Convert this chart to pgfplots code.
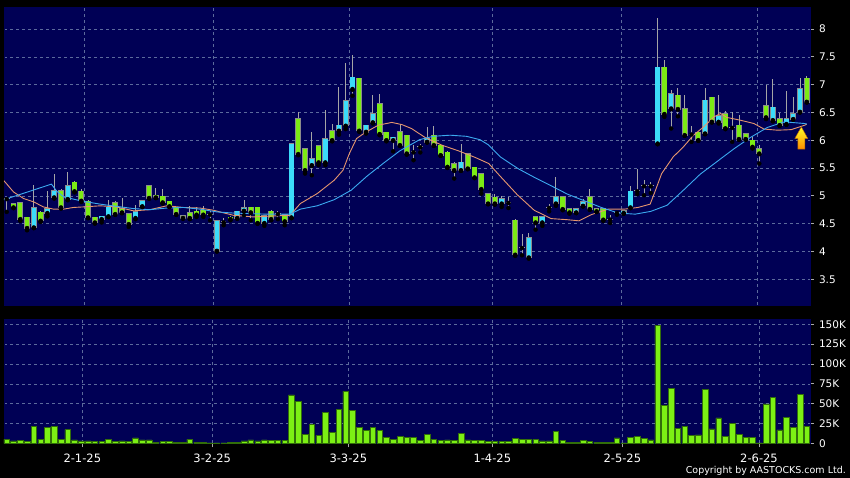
\documentclass[border=0pt]{standalone}
\usepackage{pgfplots}
\pgfplotsset{compat=1.18}
\usepackage{pgfplotstable}
\usepackage{fontspec}
\setmainfont{DejaVu Sans}
\definecolor{navybg}{RGB}{0,0,85}
\definecolor{gridcol}{RGB}{92,106,156}
\definecolor{upcol}{RGB}{60,220,250}
\definecolor{dncol}{RGB}{124,235,20}
\definecolor{wickcol}{RGB}{165,165,165}
\definecolor{bordcol}{RGB}{140,140,140}
\definecolor{volcol}{RGB}{124,240,20}
\definecolor{voledge}{RGB}{50,110,10}
\definecolor{maorange}{RGB}{230,150,110}
\definecolor{mablue}{RGB}{60,170,240}
\definecolor{tickgray}{RGB}{170,170,170}
\newcommand{\tickfont}{\fontsize{10.5}{12}\selectfont}
\newcommand{\datefont}{\fontsize{11.5}{13}\selectfont}

% columns: i low bodybottom bodytop high
\pgfplotstableread{
i lo bb bt hi
1 4.78 4.79 4.85 4.86
2 4.55 4.58 4.87 4.88
3 4.38 4.42 4.61 4.62
5 4.53 4.55 4.70 4.72
8 4.77 4.79 5.09 5.12
10 5.06 5.08 5.24 5.26
11 4.89 4.91 5.08 5.13
12 4.60 4.61 4.90 4.92
13 4.50 4.52 4.61 4.62
16 4.66 4.67 4.87 4.90
17 4.69 4.70 4.76 4.96
18 4.44 4.49 4.67 4.68
21 4.95 4.96 5.18 5.19
22 4.96 4.97 5.01 5.14
23 4.86 4.88 4.99 5.12
24 4.80 4.81 4.90 4.91
25 4.66 4.67 4.79 4.80
26 4.59 4.60 4.64 4.65
27 4.58 4.60 4.69 4.81
28 4.62 4.66 4.72 4.80
29 4.62 4.66 4.74 4.82
33 4.56 4.58 4.61 4.63
36 4.56 4.70 4.79 4.80
37 4.50 4.51 4.79 4.80
39 4.56 4.58 4.72 4.75
41 4.47 4.54 4.66 4.67
43 5.73 5.75 6.39 6.50
44 5.40 5.46 5.84 5.86
46 5.55 5.60 5.90 5.92
48 5.98 6.00 6.17 6.30
52 6.15 6.17 7.11 7.12
55 6.09 6.11 6.65 6.83
56 5.98 6.00 6.14 6.15
58 5.90 5.91 6.15 6.30
59 5.74 5.76 6.09 6.10
63 5.90 5.91 6.09 6.25
64 5.72 5.73 5.91 5.92
65 5.50 5.52 5.78 5.80
66 5.31 5.46 5.58 5.60
68 5.48 5.49 5.75 5.76
69 5.32 5.33 5.51 5.52
70 5.04 5.12 5.40 5.41
71 4.85 4.86 5.03 5.04
72 4.84 4.86 4.97 5.03
75 3.92 3.94 4.56 4.59
78 4.39 4.52 4.62 4.63
82 4.74 4.76 4.98 4.99
83 4.68 4.70 4.76 4.77
86 4.75 4.76 4.98 5.13
87 4.71 4.72 4.77 4.78
88 4.55 4.57 4.76 4.77
97 6.42 6.47 7.31 7.44
99 6.43 6.56 6.81 6.94
100 6.08 6.09 6.56 6.81
102 5.99 6.00 6.14 6.15
104 6.32 6.33 6.77 6.78
106 6.21 6.21 6.47 6.52
108 6.01 6.02 6.27 6.45
109 6.01 6.02 6.11 6.12
110 5.85 5.88 6.00 6.06
111 5.58 5.76 5.85 5.91
112 6.38 6.41 6.62 6.99
114 6.26 6.27 6.39 6.49
118 6.68 6.69 7.11 7.15
}\dntab

\pgfplotstableread{
i lo bb bt hi
4 4.42 4.43 4.78 5.20
6 4.63 4.69 4.76 5.09
7 4.95 4.97 5.09 5.40
9 4.92 4.94 5.18 5.43
14 4.52 4.58 4.63 4.64
15 4.62 4.63 4.79 4.93
19 4.58 4.60 4.71 4.84
20 4.80 4.81 4.91 4.92
31 4.00 4.01 4.55 4.56
34 4.59 4.60 4.72 4.73
35 4.65 4.73 4.78 4.92
38 4.46 4.51 4.64 4.65
42 4.60 4.61 5.94 5.95
45 5.37 5.55 5.67 6.15
47 5.55 5.60 6.02 6.54
49 6.10 6.17 6.27 6.96
50 6.20 6.26 6.71 7.38
51 6.80 6.92 7.13 7.53
53 6.12 6.15 6.27 6.28
54 6.30 6.32 6.48 6.81
57 5.80 6.00 6.05 6.06
62 5.96 5.97 6.03 6.24
67 5.45 5.46 5.60 5.94
73 4.80 4.86 4.95 4.99
77 3.87 3.89 4.25 4.33
79 4.46 4.52 4.62 4.63
81 4.82 4.86 4.98 5.34
84 4.69 4.70 4.77 4.78
85 4.81 4.82 4.89 4.95
91 4.68 4.69 4.73 4.74
92 4.78 4.79 5.08 5.17
96 5.93 5.94 7.31 8.19
98 6.21 6.57 6.83 6.90
103 6.11 6.12 6.72 6.93
105 6.30 6.33 6.44 6.81
113 6.34 6.36 6.59 7.10
115 6.28 6.29 6.38 6.89
116 6.37 6.38 6.47 6.77
117 6.50 6.51 6.92 7.11
}\uptab

\pgfplotstableread{
i lo b hi
0 4.71 4.95 4.98
30 4.56 4.67 4.72
32 4.47 4.53 4.60
40 4.58 4.68 4.72
60 5.64 5.79 5.91
61 5.78 5.88 5.94
74 4.78 4.88 4.97
76 3.93 4.07 4.32
80 4.72 4.79 4.86
89 4.51 4.58 4.65
90 4.66 4.70 4.73
93 5.03 5.09 5.48
94 5.01 5.18 5.28
95 5.05 5.18 5.25
101 5.97 6.11 6.25
107 5.97 6.23 6.51
}\dojitab

% volume in thousands
\pgfplotstableread{
i v
0 5.0
1 2.9
2 3.3
3 2.1
4 21.0
5 5.0
6 20.1
7 21.8
8 5.0
9 17.2
10 4.2
11 2.9
12 2.9
13 2.1
14 2.1
15 5.0
16 2.1
17 2.9
18 2.1
19 6.7
20 4.2
21 4.2
22 1.6
23 2.1
24 2.1
25 1.6
26 0.8
27 5.0
28 1.6
29 1.6
30 0.4
31 0.4
32 0.4
33 1.2
34 1.6
35 2.9
36 4.2
37 2.9
38 4.2
39 3.3
40 3.3
41 3.3
42 60.9
43 52.5
44 11.7
45 24.3
46 9.6
47 39.0
48 13.4
49 42.8
50 65.5
51 41.1
52 20.1
53 15.9
54 20.1
55 15.9
56 7.1
57 5.4
58 9.2
59 7.1
60 7.1
61 3.5
62 11.7
63 5.0
64 3.3
65 4.2
66 3.3
67 12.6
68 4.2
69 3.8
70 3.8
71 2.5
72 2.5
73 2.5
74 2.5
75 6.3
76 4.6
77 5.0
78 5.0
79 2.9
80 2.9
81 15.1
82 3.8
83 1.2
84 1.2
85 3.3
86 2.1
87 1.6
88 1.2
89 0.8
90 6.7
91 0.4
92 7.9
93 9.2
94 5.9
95 4.2
96 149.0
97 47.5
98 68.9
99 18.5
100 21.8
101 9.6
102 10.5
103 68.1
104 18.1
105 31.9
106 8.4
107 25.2
108 11.3
109 7.6
110 7.6
111 0.5
112 49.6
113 57.5
114 16.8
115 32.4
116 20.2
117 61.7
118 21.8
}\voltab

\begin{document}
\begin{tikzpicture}
\fill[black] (0pt,0pt) rectangle (850pt,478pt);
\useasboundingbox (0pt,0pt) rectangle (850pt,478pt);

% ---------- price panel ----------
\begin{axis}[
  at={(4pt,173pt)}, anchor=south west,
  width=806pt, height=298pt, scale only axis,
  xmin=-0.4, xmax=118.48, ymin=3.036, ymax=8.396,
  axis background/.style={fill=navybg},
  axis line style={draw=navybg},
  xtick={11.4,30.4,50.5,71.6,90.7,110.7}, xticklabels={},
  xtick style={draw=none},
  ytick={3.5,4,4.5,5,5.5,6,6.5,7,7.5,8},
  yticklabels={3.5,4,4.5,5,5.5,6,6.5,7,7.5,8},
  ytick pos=right, yticklabel pos=right,
  tick align=outside, major tick length=4pt,
  ytick style={draw=tickgray, line width=0.8pt},
  xmajorgrids, ymajorgrids,
  major grid style={draw=gridcol, dash pattern=on 3pt off 3pt, line width=0.6pt},
  yticklabel style={font=\tickfont, text=white, xshift=1.5pt},
]
% wicks
\addplot[only marks, mark=none, error bars/.cd, y dir=plus, y explicit, error mark=none,
  error bar style={draw=wickcol, line width=0.9pt}]
  table[x=i, y=lo, y error expr=\thisrow{hi}-\thisrow{lo}] {\dntab};
\addplot[only marks, mark=none, error bars/.cd, y dir=plus, y explicit, error mark=none,
  error bar style={draw=wickcol, line width=0.9pt}]
  table[x=i, y=lo, y error expr=\thisrow{hi}-\thisrow{lo}] {\uptab};
\addplot[only marks, mark=none, error bars/.cd, y dir=plus, y explicit, error mark=none,
  error bar style={draw=wickcol, line width=0.9pt}]
  table[x=i, y=lo, y error expr=\thisrow{hi}-\thisrow{lo}] {\dojitab};
% body borders
\addplot[only marks, mark=none, error bars/.cd, y dir=plus, y explicit, error mark=none,
  error bar style={draw=bordcol, line width=5.8pt}]
  table[x=i, y expr=\thisrow{bb}-0.012, y error expr=\thisrow{bt}-\thisrow{bb}+0.024] {\dntab};
\addplot[only marks, mark=none, error bars/.cd, y dir=plus, y explicit, error mark=none,
  error bar style={draw=bordcol, line width=5.8pt}]
  table[x=i, y expr=\thisrow{bb}-0.012, y error expr=\thisrow{bt}-\thisrow{bb}+0.024] {\uptab};
% body fills
\addplot[only marks, mark=none, error bars/.cd, y dir=plus, y explicit, error mark=none,
  error bar style={draw=dncol, line width=4.4pt}]
  table[x=i, y=bb, y error expr=\thisrow{bt}-\thisrow{bb}] {\dntab};
\addplot[only marks, mark=none, error bars/.cd, y dir=plus, y explicit, error mark=none,
  error bar style={draw=upcol, line width=4.4pt}]
  table[x=i, y=bb, y error expr=\thisrow{bt}-\thisrow{bb}] {\uptab};
% doji bars
\addplot[only marks, mark=none, error bars/.cd, y dir=plus, y explicit, error mark=none,
  error bar style={draw=wickcol, line width=5.6pt}]
  table[x=i, y expr=\thisrow{b}-0.009, y error expr=0.018] {\dojitab};
% moving averages
\addplot[draw=maorange, line width=0.9pt] coordinates {
(-0.4,5.27) (1.0,5.07) (2.5,4.95) (4.0,4.89) (5.4,4.80) (6.9,4.76) (8.4,4.76) (9.8,4.79)
(11.3,4.80) (13.8,4.82) (16.2,4.80) (18.7,4.73) (21.1,4.75) (23.6,4.82) (26.1,4.79) (28.5,4.78)
(30.5,4.74) (33.4,4.65) (36.4,4.62) (39.8,4.64) (41.8,4.65) (43.3,4.86) (45.8,5.04) (48.3,5.28)
(49.6,5.46) (50.5,5.75) (51.6,6.03) (52.9,6.14) (54.8,6.27) (56.8,6.32) (58.3,6.28) (59.7,6.21)
(61.7,6.05) (64.2,5.91) (66.6,5.81) (69.1,5.69) (71.1,5.58) (72.8,5.35) (75.3,5.02) (77.8,4.74)
(80.3,4.59) (82.7,4.57) (84.4,4.55) (86.2,4.66) (88.7,4.76) (91.1,4.76) (93.1,4.79) (94.9,4.85)
(95.6,5.07) (96.6,5.40) (98.3,5.70) (99.8,5.88) (101.3,6.09) (102.8,6.24) (104.3,6.42) (105.3,6.48)
(106.2,6.41) (108.2,6.36) (110.2,6.30) (111.7,6.20) (113.7,6.18) (115.7,6.19) (117.7,6.27) (118.0,6.29)
};
\addplot[draw=mablue, line width=0.9pt] coordinates {
(-0.4,4.93) (6.6,5.21) (7.4,5.08) (8.4,4.98) (11.3,4.90) (13.8,4.85) (16.2,4.81) (18.7,4.77)
(21.1,4.75) (23.6,4.78) (26.1,4.79) (28.5,4.76) (31.0,4.71) (33.4,4.69) (38.3,4.67) (41.8,4.67)
(43.3,4.76) (45.8,4.82) (48.3,4.93) (50.8,5.10) (53.2,5.36) (55.5,5.58) (58.0,5.81) (60.9,6.01)
(62.9,6.07) (65.4,6.09) (67.8,6.07) (69.8,6.01) (71.0,5.92) (72.8,5.70) (75.4,5.49) (77.7,5.34)
(80.3,5.18) (82.7,5.03) (85.2,4.91) (87.7,4.79) (90.2,4.69) (92.7,4.67) (95.0,4.72) (97.4,4.83)
(99.8,5.10) (102.3,5.39) (104.7,5.61) (107.2,5.84) (109.7,6.05) (112.2,6.23) (114.7,6.33) (117.7,6.30)
(118.0,6.29)
};
% arrow marker
\shade[top color=yellow!85!white, bottom color=orange!90!yellow, draw=orange!70!black, line width=0.4pt]
  (axis cs:117.2,6.24) -- (axis cs:118.16,6.03) -- (axis cs:117.72,6.03) -- (axis cs:117.72,5.84)
  -- (axis cs:116.68,5.84) -- (axis cs:116.68,6.03) -- (axis cs:116.24,6.03) -- cycle;
\end{axis}

% ---------- volume panel ----------
\begin{axis}[
  at={(4pt,34.7pt)}, anchor=south west,
  width=806pt, height=124.3pt, scale only axis,
  xmin=-0.4, xmax=118.48, ymin=0, ymax=156.7,
  axis background/.style={fill=navybg},
  axis line style={draw=navybg},
  xtick={11.15,30.32,50.38,71.62,90.80,110.96},
  xticklabels={2-1-25,3-2-25,3-3-25,1-4-25,2-5-25,2-6-25},
  xtick pos=bottom, xticklabel pos=bottom,
  ytick={0,25,50,75,100,125,150},
  yticklabels={0,25K,50K,75K,100K,125K,150K},
  ytick pos=right, yticklabel pos=right,
  tick align=outside, major tick length=4pt,
  tick style={draw=tickgray, line width=0.8pt},
  xmajorgrids, ymajorgrids,
  major grid style={draw=gridcol, dash pattern=on 3pt off 3pt, line width=0.6pt},
  yticklabel style={font=\tickfont, text=white, xshift=1.5pt},
  xticklabel style={font=\datefont, text=white, yshift=-3pt},
]
\addplot[ybar, bar width=5.6pt, fill=volcol, draw=voledge, line width=0.5pt]
  table[x=i, y=v] {\voltab};
\end{axis}

\node[anchor=south east, text=white, font=\fontsize{9.5}{11}\selectfont, inner sep=0pt]
  at (846pt,2pt) {Copyright by AASTOCKS.com Ltd.};
\end{tikzpicture}
\end{document}
